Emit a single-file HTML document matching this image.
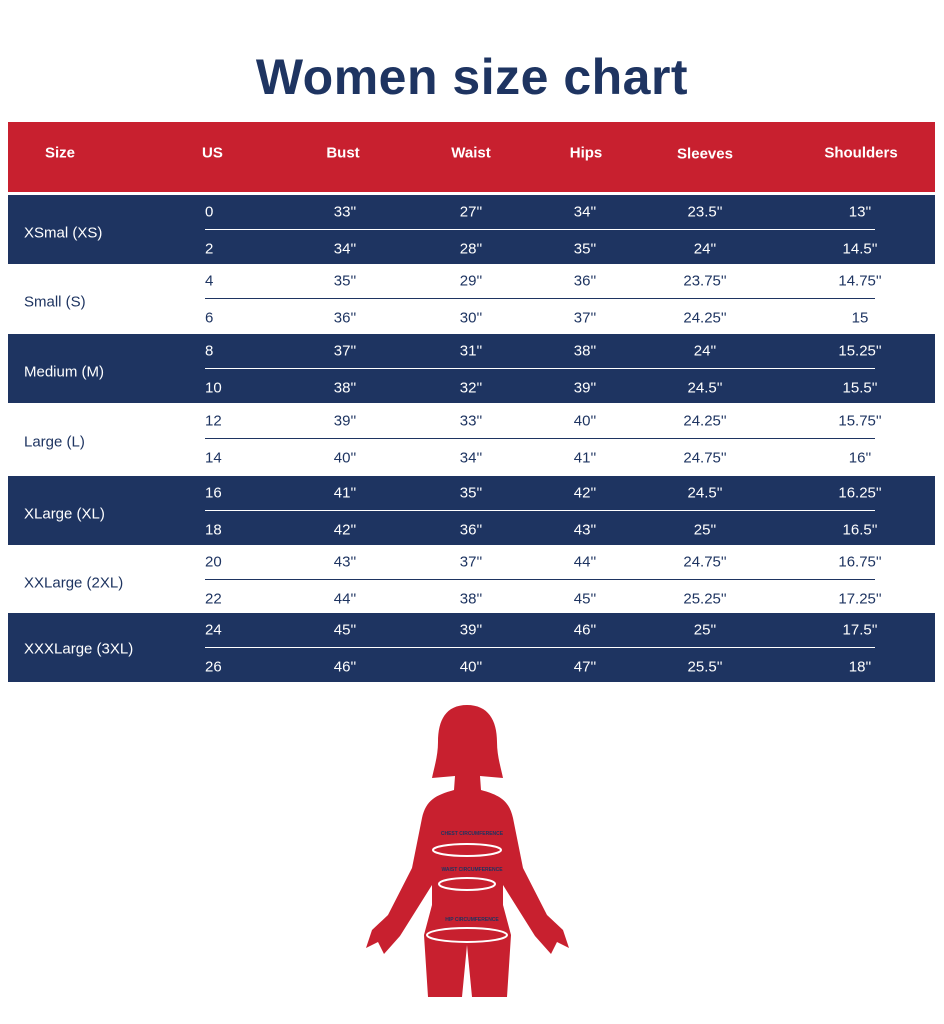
<!DOCTYPE html>
<html><head><meta charset="utf-8"><style>
body{margin:0;width:944px;height:1024px;background:#fff;position:relative;font-family:"Liberation Sans",sans-serif;overflow:hidden}
.title{position:absolute;top:48px;left:0;width:944px;text-align:center;font-weight:bold;font-size:50px;color:#1e3461;letter-spacing:0.5px}
.hdr{position:absolute;left:8px;top:122px;width:927px;height:70px;background:#c8202f;color:#fff;font-weight:bold;font-size:17px}
.band{position:absolute;left:8px;width:927px;height:69px}
.navy{background:#1e3461;color:#fff}
.white{background:#fff;color:#1e3461}
.t{position:absolute;font-size:15px;transform:translate(-50%,-50%);white-space:nowrap}
.l{position:absolute;font-size:15px;transform:translateY(-50%);white-space:nowrap}
.line{position:absolute;left:197px;width:670px;height:1px}
</style></head><body>
<div class="title">Women size chart</div>
<div class="hdr">
<span class="l" style="left:37px;top:31px">Size</span>
<span class="l" style="left:194px;top:31px">US</span>
<span class="t" style="left:335px;top:31px">Bust</span>
<span class="t" style="left:463px;top:31px">Waist</span>
<span class="t" style="left:578px;top:31px">Hips</span>
<span class="t" style="left:697px;top:32px">Sleeves</span>
<span class="t" style="left:853px;top:31px">Shoulders</span>
</div>
<div id="rows"></div>
<script>
var d=[["XSmal (XS)",195,"navy",[["0","33''","27''","34''","23.5''","13''"],["2","34''","28''","35''","24''","14.5''"]]],
["Small (S)",264,"white",[["4","35''","29''","36''","23.75''","14.75''"],["6","36''","30''","37''","24.25''","15"]]],
["Medium (M)",334,"navy",[["8","37''","31''","38''","24''","15.25''"],["10","38''","32''","39''","24.5''","15.5''"]]],
["Large (L)",404,"white",[["12","39''","33''","40''","24.25''","15.75''"],["14","40''","34''","41''","24.75''","16''"]]],
["XLarge (XL)",476,"navy",[["16","41''","35''","42''","24.5''","16.25''"],["18","42''","36''","43''","25''","16.5''"]]],
["XXLarge (2XL)",545,"white",[["20","43''","37''","44''","24.75''","16.75''"],["22","44''","38''","45''","25.25''","17.25''"]]],
["XXXLarge (3XL)",613,"navy",[["24","45''","39''","46''","25''","17.5''"],["26","46''","40''","47''","25.5''","18''"]]]];
var xs=[337,463,577,697,852],h="";
d.forEach(function(r){
 var col=r[2]=="navy"?"#fff":"#1e3461";
 h+='<div class="band '+r[2]+'" style="top:'+r[1]+'px">';
 h+='<span class="l" style="left:16px;top:'+(r[0].indexOf("XXX")==0?36:38)+'px">'+r[0]+'</span>';
 h+='<div class="line" style="top:34px;background:'+col+'"></div>';
 r[3].forEach(function(v,i){var y=i?54:17;
  h+='<span class="l" style="left:197px;top:'+y+'px">'+v[0]+'</span>';
  for(var k=1;k<6;k++)h+='<span class="t" style="left:'+xs[k-1]+'px;top:'+y+'px">'+v[k]+'</span>';
 });
 h+='</div>';
});
document.getElementById('rows').innerHTML=h;
</script>
<svg style="position:absolute;left:0;top:0" width="944" height="1024">
<g fill="#c8202f">
<path d="M467 705 C446 705 438 720 438 742 C438 756 434 768 432 778 L455 776 L454 790 C436 795 426 800 422 818 L412 868 L388 915 L372 930 L366 948 L378 942 L384 954 L400 936 L432 885 L432 905 L424 935 L428 997 L462 997 L467 945 L472 997 L507 997 L511 935 L503 905 L503 885 L535 936 L551 954 L557 942 L569 948 L563 930 L547 915 L523 868 L513 818 C509 800 499 795 481 790 L480 776 L503 778 C501 768 497 756 497 742 C497 720 488 705 467 705 Z"/>
</g>
<g fill="none" stroke="#fff" stroke-width="2">
<ellipse cx="467" cy="850" rx="34" ry="6"/>
<ellipse cx="467" cy="884" rx="28" ry="6"/>
<ellipse cx="467" cy="935" rx="40" ry="7"/>
</g>
<g fill="#1e3461" font-size="5" font-weight="bold" text-anchor="middle" font-family="Liberation Sans,sans-serif">
<text x="472" y="835">CHEST CIRCUMFERENCE</text>
<text x="472" y="871">WAIST CIRCUMFERENCE</text>
<text x="472" y="921">HIP CIRCUMFERENCE</text>
</g>
</svg>
</body></html>
